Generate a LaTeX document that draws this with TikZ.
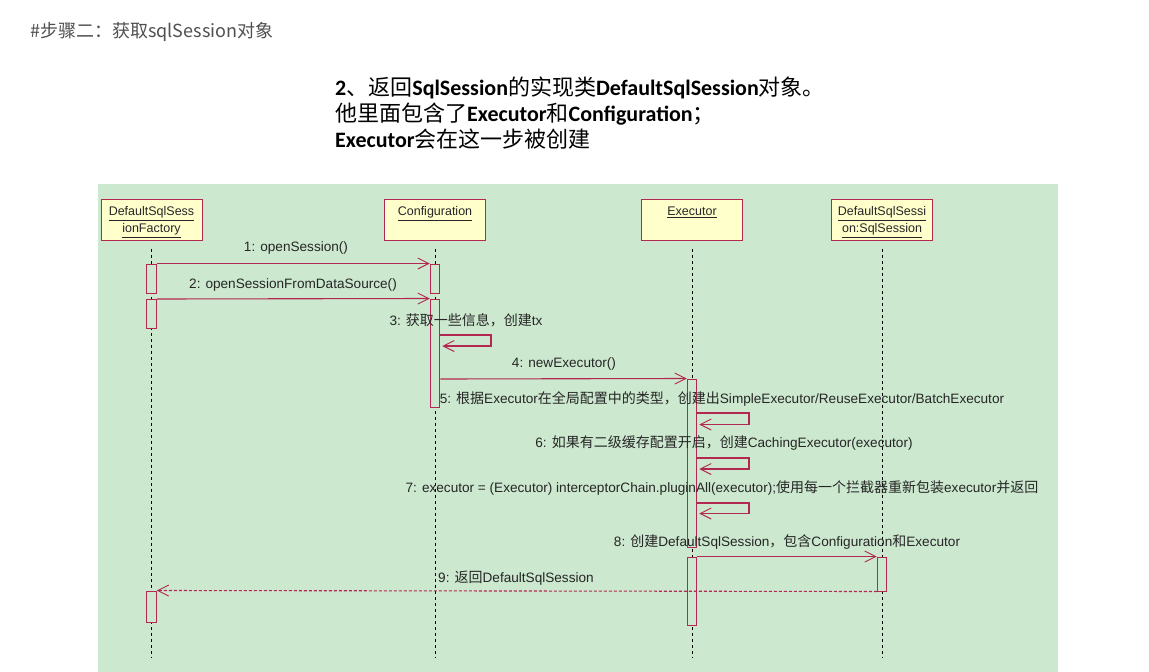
\documentclass[tikz,border=0pt]{standalone}
\usepackage{fontspec}
\setmainfont{Liberation Sans}
\newfontfamily\cjk{Noto Sans CJK SC}
\newfontfamily\titlelat{Carlito}[BoldFont={Carlito Bold}]
\usetikzlibrary{arrows.meta}
\newcommand\zhtext[1]{{\cjk\fontsize{14}{16}\selectfont #1}}
\newcommand\zhtitle[1]{{\cjk #1}}
\newcommand\lattitle[1]{{\titlelat\bfseries #1}}
\definecolor{bggreen}{RGB}{204,232,207}
\definecolor{umlred}{RGB}{178,40,80}
\definecolor{boxyellow}{RGB}{255,255,204}
\definecolor{headgray}{RGB}{80,80,80}
\tikzset{
  head/.style={draw=umlred, line width=1pt, fill=boxyellow, minimum width=101pt, minimum height=41pt, inner sep=0pt},
  headtxt/.style={anchor=north, align=center, inner sep=0pt, font=\fontsize{12.5}{17}\selectfont, text=black!85},
  lifeline/.style={draw=black, line width=0.8pt, dash pattern=on 3pt off 3pt},
  bar/.style={draw=umlred, line width=1pt, fill=bggreen, minimum width=9.5pt, inner sep=0pt},
  msg/.style={draw=umlred, line width=1.1pt, -{Straight Barb[length=11pt,width=11pt,line width=0.9pt]}},
  ret/.style={msg, dash pattern=on 3pt off 2pt},
  lbl/.style={inner sep=0pt, font=\fontsize{13.6}{16}\selectfont, text=black!85},
}
\begin{document}
\begin{tikzpicture}[x=1pt,y=-1pt]
\useasboundingbox (0,0) rectangle (1149,672);
\fill[white] (0,0) rectangle (1149,672);
% header
\node[anchor=west, inner sep=0pt, text=headgray, font=\cjk\fontsize{18}{20}\selectfont] (hdr) at (30,32) {\#步骤二：获取sqlSession对象};
% title
\node[anchor=north west, inner sep=0pt, align=left, font=\fontsize{22}{26}\selectfont] (title) at (335,76.5) {%
\lattitle{2}\zhtitle{、返回}\lattitle{SqlSession}\zhtitle{的实现类}\lattitle{DefaultSqlSession}\zhtitle{对象。}\\
\zhtitle{他里面包含了}\lattitle{Executor}\zhtitle{和}\lattitle{Configuration}\zhtitle{；}\\
\lattitle{Executor}\zhtitle{会在这一步被创建}};
% green panel
\fill[bggreen] (98,184) rectangle (1058,672);
% heads
\node[head] (hF) at (151.5,219.5) {};
\node[head] (hC) at (435,219.5) {};
\node[head] (hE) at (692,219.5) {};
\node[head] (hS) at (882,219.5) {};
\node[headtxt] (hFt) at (151.5,206.5) {\underline{DefaultSqlSess}\\\underline{ionFactory}};
\node[headtxt] (hCt) at (435,206.5) {\underline{Configuration}};
\node[headtxt] (hEt) at (692,206.5) {\underline{Executor}};
\node[headtxt] (hSt) at (882,206.5) {\underline{DefaultSqlSessi}\\\underline{on:SqlSession}};
% lifeline ends
\coordinate (eF) at (151.5,658);
\coordinate (eC) at (435,658);
\coordinate (eE) at (692,658);
\coordinate (eS) at (882,658);
\draw[lifeline] ([yshift=-8pt]hF.south) -- (eF);
\draw[lifeline] ([yshift=-8pt]hC.south) -- (eC);
\draw[lifeline] ([yshift=-8pt]hE.south) -- (eE);
\draw[lifeline] ([yshift=-8pt]hS.south) -- (eS);
% activation bars
\node[bar, minimum height=29pt] (f1) at (151.5,278.5) {};
\node[bar, minimum height=29pt] (f2) at (151.5,314) {};
\node[bar, minimum height=31pt] (f3) at (151.5,606.5) {};
\node[bar, minimum height=29pt] (c1) at (435,278.5) {};
\node[bar, minimum height=108pt] (c2) at (435,353) {};
\node[bar, minimum height=168pt] (x1) at (692,463) {};
\node[bar, minimum height=68pt] (x2) at (692,591) {};
\node[bar, minimum height=34pt] (s1) at (882,574) {};
% messages
\draw[msg] (f1.north east) -- (c1.north west);
\draw[msg] (f2.north east) -- (c2.north west);
\draw[msg] (c2.east |- 0,335) -- (491,335) -- (491,346) -- ([xshift=2pt]c2.east |- 0,346);
\draw[msg] (c2.east |- 0,379) -- (x1.north west);
\draw[msg] (x1.east |- 0,413) -- (749,413) -- (749,424.5) -- ([xshift=2pt]x1.east |- 0,424.5);
\draw[msg] (x1.east |- 0,458) -- (749,458) -- (749,469) -- ([xshift=2pt]x1.east |- 0,469);
\draw[msg] (x1.east |- 0,503) -- (749,503) -- (749,513.5) -- ([xshift=2pt]x1.east |- 0,513.5);
\draw[msg] (x2.north east) -- (s1.north west);
\draw[ret] (s1.south west) -- (f3.north east);
% labels
\node[lbl] (l1) at (296,248) {1: openSession()};
\node[lbl] (l2) at (293,285) {2: openSessionFromDataSource()};
\node[lbl] (l3) at (466,320) {3: \zhtext{获取一些信息，创建}tx};
\node[lbl] (l4) at (564,364) {4: newExecutor()};
\node[lbl] (l5) at (722,399) {5: \zhtext{根据}Executor\zhtext{在全局配置中的类型，创建出}SimpleExecutor/ReuseExecutor/BatchExecutor};
\node[lbl] (l6) at (724,443) {6: \zhtext{如果有二级缓存配置开启，创建}CachingExecutor(executor)};
\node[lbl] (l7) at (722,488) {7: executor = (Executor) interceptorChain.pluginAll(executor);\zhtext{使用每一个拦截器重新包装}executor\zhtext{并返回}};
\node[lbl] (l8) at (787,542) {8: \zhtext{创建}DefaultSqlSession\zhtext{，包含}Configuration\zhtext{和}Executor};
\node[lbl] (l9) at (516,578) {9: \zhtext{返回}DefaultSqlSession};
\end{tikzpicture}
\end{document}
